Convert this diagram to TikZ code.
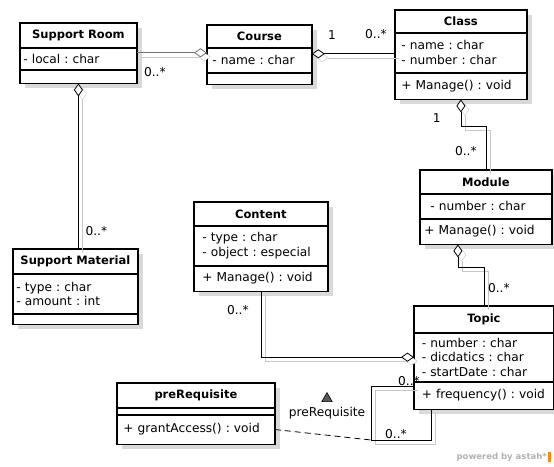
\documentclass[tikz,border=0pt]{standalone}
\usepackage{fontspec}
\setmainfont{DejaVu Sans}
\usetikzlibrary{positioning,arrows.meta,shapes.geometric,backgrounds}
\tikzset{agg/.tip={Diamond[fill=white, length=13pt, width=9pt]}}
\frenchspacing

\begin{document}
\begin{tikzpicture}[
        x=1pt, y=-1pt,
        every node/.style={font=\fontsize{12.2}{14.5}\selectfont, inner sep=0pt},
        chead/.style={draw, line width=0.8pt, fill=white, anchor=north west, font=\fontsize{11.5}{14.5}\selectfont\bfseries},
        cpart/.style={draw, line width=0.8pt, fill=white, align=left, inner xsep=6pt, below=0pt of #1},
        umlframe/.style={draw, line width=1.7pt},
        boxshade/.style={fill=black!15},
        link/.style={draw, line width=0.8pt, preaction={draw=black!22, transform canvas={shift={(4pt,-4pt)}}}},
        assocdash/.style={draw, line width=0.8pt, dash pattern=on 6pt off 4pt},
        mult/.style={font=\fontsize{12.2}{14}\selectfont},
        navi/.style={regular polygon, regular polygon sides=3, draw, fill=black!65, minimum size=12pt, line width=0.6pt},
    ]
    \useasboundingbox (0,0) rectangle (554,466);

    \node[chead, minimum width=116pt, minimum height=24pt] (room) at (20,23) {Support Room};
    \node[cpart=room, inner xsep=3pt, text width=110pt, minimum height=21pt] (room-a) {- local : char};
    \node[cpart=room-a, text width=104pt, minimum height=13pt] (room-o) {};
    \draw[umlframe] (room.north west) rectangle (room-o.south east);

    \node[chead, minimum width=104pt, minimum height=22pt] (course) at (207,25) {Course};
    \node[cpart=course, inner xsep=5pt, text width=94pt, minimum height=24pt] (course-a) {- name : char};
    \node[cpart=course-a, text width=92pt, minimum height=11pt] (course-o) {};
    \draw[umlframe] (course.north west) rectangle (course-o.south east);

    \node[chead, minimum width=131pt, minimum height=22pt] (cls) at (395,10) {Class};
    \node[cpart=cls, inner xsep=6pt, text width=119pt, minimum height=39pt] (cls-a) {- name : char\\- number : char};
    \node[cpart=cls-a, inner xsep=6pt, text width=119pt, minimum height=26pt] (cls-o) {+ Manage() : void};
    \draw[umlframe] (cls.north west) rectangle (cls-o.south east);

    \node[chead, minimum width=131pt, minimum height=23pt] (mod) at (420,170) {Module};
    \node[cpart=mod, inner xsep=10pt, text width=111pt, minimum height=24pt] (mod-a) {- number : char};
    \node[cpart=mod-a, inner xsep=4pt, text width=123pt, minimum height=25pt] (mod-o) {+ Manage() : void};
    \draw[umlframe] (mod.north west) rectangle (mod-o.south east);

    \node[chead, minimum width=139pt, minimum height=26pt] (topic) at (414,306) {Topic};
    \node[cpart=topic, inner xsep=7.5pt, text width=124pt, minimum height=48pt] (topic-a) {- number : char\\- dicdatics : char\\- startDate : char};
    \node[cpart=topic-a, inner xsep=7.5pt, text width=124pt, minimum height=27pt] (topic-o) {+ frequency() : void};
    \draw[umlframe] (topic.north west) rectangle (topic-o.south east);

    \node[chead, minimum width=133pt, minimum height=23pt] (content) at (194,202) {Content};
    \node[cpart=content, inner xsep=8pt, text width=117pt, minimum height=39pt] (content-a) {- type : char\\- object : especial};
    \node[cpart=content-a, inner xsep=8pt, text width=117pt, minimum height=25pt] (content-o) {+ Manage() : void};
    \draw[umlframe] (content.north west) rectangle (content-o.south east);

    \node[chead, minimum width=124pt, minimum height=24pt] (material) at (13,249) {Support Material};
    \node[cpart=material, inner xsep=3pt, text width=118pt, minimum height=39pt] (material-a) {- type : char\\- amount : int};
    \node[cpart=material-a, text width=112pt, minimum height=10pt] (material-o) {};
    \draw[umlframe] (material.north west) rectangle (material-o.south east);

    \node[chead, minimum width=157pt, minimum height=24pt] (prereq) at (117,383) {preRequisite};
    \node[cpart=prereq, text width=145pt, minimum height=6pt] (prereq-a) {};
    \node[cpart=prereq-a, text width=145pt, minimum height=29pt] (prereq-o) {+ grantAccess() : void};
    \draw[umlframe] (prereq.north west) rectangle (prereq-o.south east);

    \begin{scope}[on background layer]
        \fill[white] (0,0) rectangle (554,466);
        \fill[boxshade] ([shift={(5pt,-5pt)}]room.north west) rectangle ([shift={(5pt,-5pt)}]room-o.south east);
        \fill[boxshade] ([shift={(5pt,-5pt)}]course.north west) rectangle ([shift={(5pt,-5pt)}]course-o.south east);
        \fill[boxshade] ([shift={(5pt,-5pt)}]cls.north west) rectangle ([shift={(5pt,-5pt)}]cls-o.south east);
        \fill[boxshade] ([shift={(5pt,-5pt)}]mod.north west) rectangle ([shift={(5pt,-5pt)}]mod-o.south east);
        \fill[boxshade] ([shift={(5pt,-5pt)}]topic.north west) rectangle ([shift={(5pt,-5pt)}]topic-o.south east);
        \fill[boxshade] ([shift={(5pt,-5pt)}]content.north west) rectangle ([shift={(5pt,-5pt)}]content-o.south east);
        \fill[boxshade] ([shift={(5pt,-5pt)}]material.north west) rectangle ([shift={(5pt,-5pt)}]material-o.south east);
        \fill[boxshade] ([shift={(5pt,-5pt)}]prereq.north west) rectangle ([shift={(5pt,-5pt)}]prereq-o.south east);
    \end{scope}

    \coordinate (c1s) at ([yshift=-5pt]room-a.north east);
    \draw[link, draw=black!55, -agg] (c1s) -- (c1s -| course.west);
    \node[mult, below right=14pt and 7pt of c1s] (m1) {0..*};

    \coordinate (c2s) at ([yshift=-6pt]course-a.north east);
    \coordinate (c2e) at (c2s -| cls.west);
    \draw[link, agg-] (c2s) -- (c2e);
    \node[mult, above right=14pt and 16pt of c2s] (m2a) {1};
    \node[mult, above left=15pt and 8pt of c2e] (m2b) {0..*};

    \draw[link, agg-] (cls-o.south) -- ++(0,27) -| (mod.north);
    \node[mult, below left=14pt and 20pt of cls-o.south] (m3a) {1};
    \node[mult, above left=14pt and 9pt of mod.north] (m3b) {0..*};

    \coordinate (c4s) at ([xshift=-28pt]mod-o.south);
    \draw[link, agg-] (c4s) -- ++(0,23) -| (topic.north);
    \node[mult, above right=13pt and 4pt of topic.north] (m4) {0..*};

    \draw[link, -agg] (content-o.south) |- (topic-a.west);
    \node[mult, below left=14pt and 12pt of content-o.south] (m5) {0..*};

    \draw[link, agg-] (room-o.south) -- (material.north -| room-o.south);
    \node[mult, above right=13pt and 7pt of material.north -| room-o.south] (m7) {0..*};

    \coordinate (c6s) at ([yshift=-5pt]topic-o.north west);
    \coordinate (c6e) at ([xshift=17pt]topic-o.south west);
    \coordinate (loop) at (371,440);
    \draw[link] (c6s) -| (loop) -| (c6e);
    \node[mult, anchor=south east] (m6a) at ([shift={(6pt,1pt)}]c6s) {0..*};
    \node[mult, above right=1pt and 14pt of loop] (m6b) {0..*};
    \draw[assocdash] (prereq-o.east) -- (loop);
    \node (asc) at (327,413) {preRequisite};
    \node[navi, above=5pt of asc] (asc-dir) {};

    \node[anchor=east, font=\fontsize{8.5}{10}\selectfont\bfseries, text=black!30] (brand) at (547,457) {powered by astah*};
    \fill[orange!90!yellow] ([shift={(1pt,-5pt)}]brand.east) rectangle ++(3pt,10pt);
\end{tikzpicture}
\end{document}
